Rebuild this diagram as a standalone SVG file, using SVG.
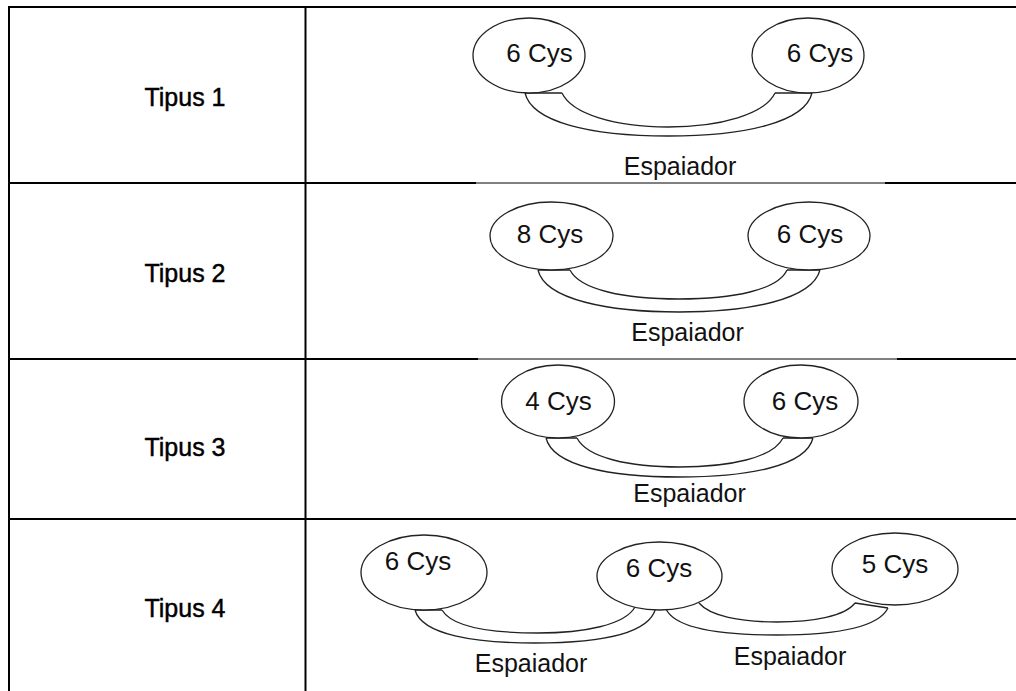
<svg xmlns="http://www.w3.org/2000/svg" width="1016" height="691" viewBox="0 0 1016 691">
<style>
.grid{stroke:#000;stroke-width:2;fill:none}
.thin{stroke:#000;stroke-width:1;fill:none}
.lbl{font-family:"Liberation Sans",Arial,sans-serif;font-size:25px;fill:#000;stroke:#000;stroke-width:0.45;text-anchor:middle}
.cys{font-family:"Liberation Sans",Arial,sans-serif;font-size:26px;fill:#111;text-anchor:middle}
.esp{font-family:"Liberation Sans",Arial,sans-serif;font-size:25px;fill:#111;text-anchor:middle}
.node{fill:#fff;stroke:#222;stroke-width:1.3}
.band{fill:none;stroke:#222;stroke-width:1.3}
</style>
<rect width="1016" height="691" fill="#fff"/>
<g id="table">
<line class="grid" x1="8" y1="7" x2="1016" y2="7"/>
<line class="grid" x1="9" y1="6" x2="9" y2="691"/>
<line class="grid" x1="305.5" y1="6" x2="305.5" y2="691"/>
<line class="grid" x1="8" y1="183" x2="476" y2="183"/>
<line class="thin" x1="476" y1="183" x2="885" y2="183"/>
<line class="grid" x1="885" y1="183" x2="1016" y2="183"/>
<line class="grid" x1="8" y1="359" x2="478" y2="359"/>
<line class="thin" x1="478" y1="359" x2="897" y2="359"/>
<line class="grid" x1="897" y1="359" x2="1016" y2="359"/>
<line class="grid" x1="8" y1="519" x2="1016" y2="519"/>
</g>
<g id="labels">
<text class="lbl" x="185" y="106">Tipus 1</text>
<text class="lbl" x="185" y="282">Tipus 2</text>
<text class="lbl" x="185" y="456">Tipus 3</text>
<text class="lbl" x="185" y="617">Tipus 4</text>
</g>
<g id="connectors">
<path class="band" d="M525,93 C532,122 590,136 668,136 C746,136 805,122 812,93 M562,93 C572,114 615,127 668,127 C721,127 765,114 775,93 M525,93 L562,93 M775,93 L812,93"/>
<path class="band" d="M538,270 C545,300 610,312 679,312 C748,312 812,300 820,270 M570,270 C580,290 625,299 679,299 C733,299 778,290 787,270 M538,270 L570,270 M787,270 L820,270"/>
<path class="band" d="M546,438 C553,466 610,477 679.5,477 C749,477 806,466 813,438 M577,438 C587,458 630,467 679.5,467 C729,467 773,458 783,438 M546,438 L577,438 M783,438 L813,438"/>
<path class="band" d="M415,610 C422,635 475,643 535,643 C595,643 648,635 655.5,609 M442,610 C452,627 492,633 538,633 C584,633 625,625 635,607 M415,610 L442,610"/>
<path class="band" d="M666,609 C675,628 720,635 777,635 C834,635 878,628 888,608 M699,603 C710,616 740,622 777,622 C814,622 845,616 855,603 M855,603 L888,608"/>
<text class="esp" x="680" y="175">Espaiador</text>
<text class="esp" x="687.5" y="341">Espaiador</text>
<text class="esp" x="689.5" y="502">Espaiador</text>
<text class="esp" x="531" y="672">Espaiador</text>
<text class="esp" x="790" y="665">Espaiador</text>
</g>
<g id="n1a"><ellipse class="node" cx="529" cy="55.5" rx="56" ry="37.5"/><text class="cys" x="539.5" y="62">6 Cys</text></g>
<g id="n1b"><ellipse class="node" cx="808" cy="55.5" rx="56" ry="37.5"/><text class="cys" x="820" y="62">6 Cys</text></g>
<g id="n2a"><ellipse class="node" cx="551.5" cy="236" rx="61.5" ry="34"/><text class="cys" x="550" y="243">8 Cys</text></g>
<g id="n2b"><ellipse class="node" cx="809" cy="236" rx="61" ry="34"/><text class="cys" x="810" y="243">6 Cys</text></g>
<g id="n3a"><ellipse class="node" cx="558" cy="401.5" rx="56.5" ry="36.5"/><text class="cys" x="558.5" y="410">4 Cys</text></g>
<g id="n3b"><ellipse class="node" cx="801" cy="401.5" rx="57" ry="36.5"/><text class="cys" x="805" y="410">6 Cys</text></g>
<g id="n4a"><ellipse class="node" cx="424" cy="572.5" rx="63" ry="37.5"/><text class="cys" x="418" y="570">6 Cys</text></g>
<g id="n4b"><ellipse class="node" cx="659.5" cy="576" rx="62.5" ry="34"/><text class="cys" x="659" y="577">6 Cys</text></g>
<g id="n4c"><ellipse class="node" cx="895" cy="569" rx="63" ry="36"/><text class="cys" x="895" y="573">5 Cys</text></g>
</svg>
